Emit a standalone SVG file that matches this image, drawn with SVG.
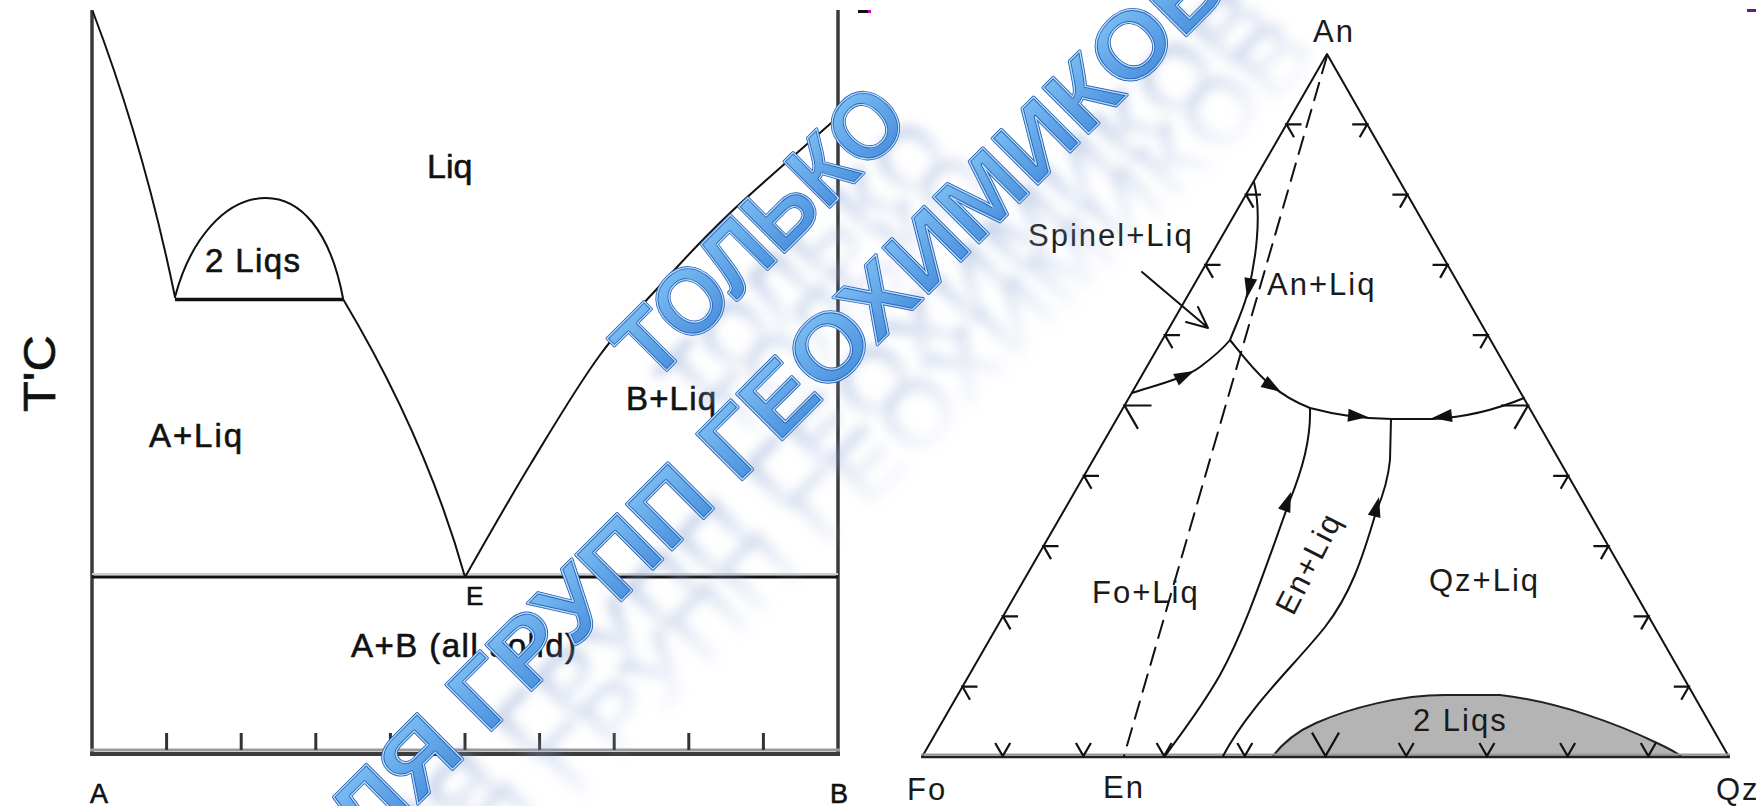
<svg xmlns="http://www.w3.org/2000/svg" width="1756" height="806" viewBox="0 0 1756 806">
<defs>
<style>
.ln{fill:none;stroke:#111;stroke-width:2;stroke-linecap:round;stroke-linejoin:round}
.ax{fill:none;stroke:#3a3a3a;stroke-width:3.5}
.tk{stroke:#333;stroke-width:3}
.lt{font-family:"Liberation Sans",Arial,sans-serif;font-size:33px;fill:#111;stroke:#111;stroke-width:0.6}
.rt{font-family:"Liberation Sans",Arial,sans-serif;font-size:31px;fill:#1a1a1a;letter-spacing:2px}
.ch{fill:none;stroke:#111;stroke-width:2.2}
.ah{fill:#111;stroke:none}
.wm{font-family:"Liberation Sans",Arial,sans-serif;font-weight:bold;font-size:94px}
</style>
<path id="chs" d="M-7.5,-13 L0,0 L7.5,-13"/>
<path id="chl" d="M-13.5,-23.4 L0,0 L13.5,-23.4"/>
<path id="ah" d="M0,0 L-20,-6.5 L-20,6.5 Z"/>
<linearGradient id="wmg" x1="0" y1="0" x2="0" y2="1">
<stop offset="0" stop-color="#86c6f7"/>
<stop offset="1" stop-color="#3f86d8"/>
</linearGradient>
<linearGradient id="shg" x1="0" y1="0" x2="0" y2="1">
<stop offset="0" stop-color="#5f7fbf" stop-opacity="0.85"/>
<stop offset="1" stop-color="#c8d4ea" stop-opacity="0.15"/>
</linearGradient>
<filter id="blur" x="-20%" y="-50%" width="140%" height="200%">
<feGaussianBlur stdDeviation="6"/>
</filter>
<text id="w1" class="wm" textLength="369" lengthAdjust="spacingAndGlyphs">ТОЛЬКО</text>
<text id="w2" class="wm" textLength="1295" lengthAdjust="spacingAndGlyphs">ДЛЯ ГРУПП ГЕОХИМИКОВ</text>
</defs>
<rect width="1756" height="806" fill="#fff"/>

<g id="binary-diagram">
<g id="axes">
<line x1="92" y1="10" x2="92" y2="754" class="ax"/>
<line x1="838" y1="10" x2="838" y2="754" class="ax"/>
<line x1="90" y1="750" x2="840" y2="750" stroke="#9a9a9a" stroke-width="3"/>
<line x1="90" y1="754" x2="840" y2="754" stroke="#3c3c3c" stroke-width="4"/>
<g class="tk">
<line x1="166.6" y1="733" x2="166.6" y2="750"/>
<line x1="241.2" y1="733" x2="241.2" y2="750"/>
<line x1="315.8" y1="733" x2="315.8" y2="750"/>
<line x1="390.4" y1="733" x2="390.4" y2="750"/>
<line x1="465" y1="733" x2="465" y2="750"/>
<line x1="539.6" y1="733" x2="539.6" y2="750"/>
<line x1="614.2" y1="733" x2="614.2" y2="750"/>
<line x1="688.8" y1="733" x2="688.8" y2="750"/>
<line x1="763.4" y1="733" x2="763.4" y2="750"/>
</g>
</g>
<g id="phase-lines">
<line x1="92" y1="574" x2="838" y2="574" stroke="#cfcfcf" stroke-width="2"/>
<line x1="92" y1="577" x2="838" y2="577" stroke="#111" stroke-width="3"/>
<line x1="175" y1="299.5" x2="343" y2="299.5" stroke="#111" stroke-width="3.5"/>
<path class="ln" d="M93,12 Q144,146 175,297"/>
<path class="ln" d="M175,297 C190,240 225,198 266,198 C300,198 330,230 343,298"/>
<path class="ln" d="M343,299 Q426,438 465,577"/>
<path class="ln" d="M465,577 C475.8,558.3 507.5,502 530,465 C552.5,428 577,386.3 600,355 C623,323.7 646.3,300.7 668,277 C689.7,253.3 701.7,239.7 730,213 C758.3,186.3 820,133 838,117"/>
</g>
<g id="binary-labels" class="lt">
<text x="427" y="178" font-size="34">Liq</text>
<text x="205" y="272" textLength="95" lengthAdjust="spacing">2 Liqs</text>
<text x="149" y="447" textLength="93" lengthAdjust="spacing">A+Liq</text>
<text x="626" y="410" textLength="90" lengthAdjust="spacing">B+Liq</text>
<text x="466" y="605" font-size="26">E</text>
<text x="351" y="657" textLength="225" lengthAdjust="spacing">A+B (all solid)</text>
<text x="90" y="803" font-size="27">A</text>
<text x="830" y="803" font-size="27">B</text>
<text x="55" y="412" font-size="44" transform="rotate(-90 55 412)" textLength="77" lengthAdjust="spacingAndGlyphs">T'C</text>
</g>
</g>

<g id="ternary-diagram">
<path id="gray-2liqs" d="M1272,757 C1285,740 1300,730 1316,723 C1350,708 1400,695 1445,695 L1500,695 C1560,702 1620,725 1657,743 C1670,749 1677,753 1682,757 Z" fill="#b4b4b4" stroke="#222" stroke-width="2"/>
<g id="triangle">
<path class="ln" d="M922,757 L1327,54 L1729,757" stroke-width="2.3"/>
<line x1="921" y1="754.5" x2="1730" y2="754.5" stroke="#9a9a9a" stroke-width="2"/>
<line x1="921" y1="757" x2="1730" y2="757" stroke="#222" stroke-width="2.5"/>
</g>
<g id="connectors">
<path class="ln" d="M1327,56 L1124,756" stroke-dasharray="18 10" stroke-linecap="butt"/>
<path class="ln" d="M1254,182 C1262,215 1256,262 1247,295 C1243,310 1236,325 1230,340"/>
<path class="ln" d="M1132,393 C1160,384 1185,378 1200,367 C1212,358 1222,350 1230,340"/>
<path class="ln" d="M1230,340 C1248,362 1268,392 1310,408 C1340,416 1370,419 1392,419 L1433,419 C1470,417 1500,408 1524,398"/>
<path class="ln" d="M1310,408 C1311,440 1302,470 1290,500 C1268,560 1246,628 1220,675 C1200,710 1180,735 1165,756"/>
<path class="ln" d="M1391,419 L1390,460 C1388,480 1382,498 1376,512 C1362,560 1350,595 1325,627 C1295,665 1250,705 1223,756"/>
<path class="ln" d="M1142,272 L1207,327 M1186,322 L1208,328 L1198,307"/>
<g class="ah">
<use href="#ah" transform="translate(1247,298) rotate(101)"/>
<use href="#ah" transform="translate(1194,371) rotate(-26)"/>
<use href="#ah" transform="translate(1281,392) rotate(32)"/>
<use href="#ah" transform="translate(1368,417) rotate(5)"/>
<use href="#ah" transform="translate(1432,418) rotate(173)"/>
<use href="#ah" transform="translate(1291,492) rotate(-70)"/>
<use href="#ah" transform="translate(1379,497) rotate(-76)"/>
</g>
</g>
<g id="edge-chevrons" class="ch">
<use href="#chs" transform="translate(962.5,686.7) rotate(120)"/>
<use href="#chs" transform="translate(1003,616.4) rotate(120)"/>
<use href="#chs" transform="translate(1043.5,546.1) rotate(120)"/>
<use href="#chs" transform="translate(1084,475.8) rotate(120)"/>
<use href="#chl" transform="translate(1124.5,405.5) rotate(120)"/>
<use href="#chs" transform="translate(1165,335.2) rotate(120)"/>
<use href="#chs" transform="translate(1205.5,264.9) rotate(120)"/>
<use href="#chs" transform="translate(1246,194.6) rotate(120)"/>
<use href="#chs" transform="translate(1286.5,124.3) rotate(120)"/>
<use href="#chs" transform="translate(1688.8,686.7) rotate(-120)"/>
<use href="#chs" transform="translate(1648.6,616.4) rotate(-120)"/>
<use href="#chs" transform="translate(1608.4,546.1) rotate(-120)"/>
<use href="#chs" transform="translate(1568.2,475.8) rotate(-120)"/>
<use href="#chl" transform="translate(1528,405.5) rotate(-120)"/>
<use href="#chs" transform="translate(1487.8,335.2) rotate(-120)"/>
<use href="#chs" transform="translate(1447.6,264.9) rotate(-120)"/>
<use href="#chs" transform="translate(1407.4,194.6) rotate(-120)"/>
<use href="#chs" transform="translate(1367.2,124.3) rotate(-120)"/>
<use href="#chs" transform="translate(1002.7,756)"/>
<use href="#chs" transform="translate(1083.4,756)"/>
<use href="#chs" transform="translate(1164.1,756)"/>
<use href="#chs" transform="translate(1244.8,756)"/>
<use href="#chl" transform="translate(1325.5,756)"/>
<use href="#chs" transform="translate(1406.2,756)"/>
<use href="#chs" transform="translate(1486.9,756)"/>
<use href="#chs" transform="translate(1567.6,756)"/>
<use href="#chs" transform="translate(1648.3,756)"/>
</g>
<g id="ternary-labels" class="rt">
<text x="1313" y="42">An</text>
<text x="1028" y="246">Spinel+Liq</text>
<text x="1267" y="295">An+Liq</text>
<text x="1092" y="603">Fo+Liq</text>
<text x="1429" y="591">Qz+Liq</text>
<text x="1318" y="568" text-anchor="middle" transform="rotate(-63 1318 568)">En+Liq</text>
<text x="1413" y="731">2 Liqs</text>
<text x="907" y="800">Fo</text>
<text x="1103" y="798">En</text>
<text x="1716" y="800">Qz</text>
</g>
</g>

<g id="specks">
<rect x="858" y="10" width="10" height="3" fill="#111"/>
<rect x="868" y="10" width="3" height="3" fill="#c0c"/>
<rect x="1747" y="9" width="9" height="3" fill="#602070"/>
</g>

<g id="watermark">
<g filter="url(#blur)" fill="url(#shg)">
<g opacity="0.4">
<use href="#w1" transform="translate(652,385) rotate(-45) translate(16,110)"/>
<use href="#w2" transform="translate(317,905) rotate(-45) translate(16,110)"/>
</g>
<g opacity="0.6">
<use href="#w1" transform="translate(652,385) rotate(-45) translate(8,55)"/>
<use href="#w2" transform="translate(317,905) rotate(-45) translate(8,55)"/>
</g>
</g>
<g fill="url(#wmg)" stroke="#2a62b6" stroke-width="3" stroke-linejoin="round">
<use href="#w1" transform="translate(652,385) rotate(-45)"/>
<use href="#w2" transform="translate(317,905) rotate(-45)"/>
</g>
<g fill="none" stroke="#b8e2ff" stroke-width="1.2">
<use href="#w1" transform="translate(652,385) rotate(-45)"/>
<use href="#w2" transform="translate(317,905) rotate(-45)"/>
</g>
</g>
</svg>
